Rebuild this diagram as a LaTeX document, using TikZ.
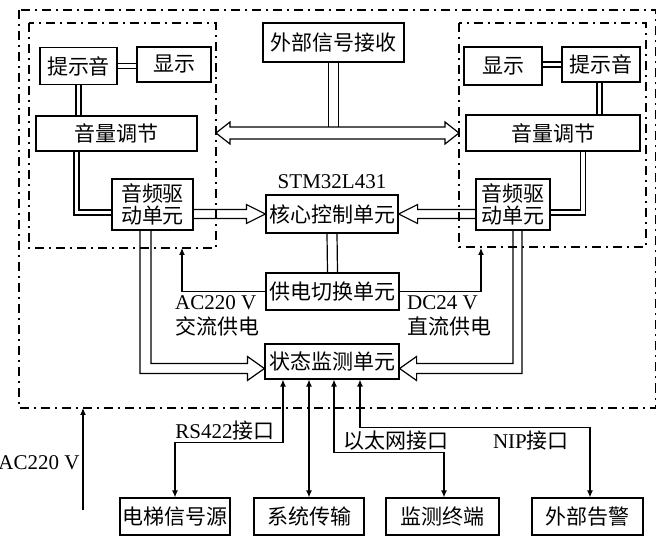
\documentclass[tikz,border=0pt]{standalone}
\usepackage{fontspec}
\setmainfont{Liberation Serif}
\newfontfamily\cjk{Noto Sans CJK SC}
\usetikzlibrary{arrows.meta,calc}
\begin{document}
\begin{tikzpicture}[x=1pt,y=-1pt,
  box/.style={draw,line width=1.2pt,inner sep=0pt,font=\cjk\fontsize{21}{22}\selectfont,align=center},
  dd/.style={dash pattern=on 9pt off 5pt on 2pt off 5pt,line width=1.2pt},
  ln/.style={line width=1.2pt},
  dbl/.style={double,double distance=3.8pt,line width=1.2pt},
  arr/.style={line width=1.2pt,-{Latex[length=7pt,width=6pt]}},
  barr/.style={line width=1.2pt,{Latex[length=7pt,width=6pt]}-{Latex[length=7pt,width=6pt]}},
  lat/.style={font=\fontsize{21}{25}\selectfont,inner sep=0pt},
]
\useasboundingbox (0,0) rectangle (657,540);
\fill[white] (0,0) rectangle (657,540);

% dashed frames
\draw[dd] (19,10) rectangle (655.5,408);
\draw[dd] (29,23) rectangle (216,248);
\draw[dd] (459,23) rectangle (646,247);

% left group
\node[box,minimum width=77pt,minimum height=37pt] (tsL) at (78.5,66) {提示音};
\node[box,minimum width=74pt,minimum height=35pt] (xsL) at (174,64.5) {显示};
\node[box,minimum width=161pt,minimum height=35pt] (ylL) at (116.5,133.5) {音量调节};
\node[box,minimum width=81pt,minimum height=51pt] (qdL) at (152.5,204.5) {音频驱\\动单元};
% right group
\node[box,minimum width=78pt,minimum height=38pt] (xsR) at (503,66) {显示};
\node[box,minimum width=78pt,minimum height=35pt] (tsR) at (601,64.5) {提示音};
\node[box,minimum width=174pt,minimum height=36pt] (ylR) at (553,133) {音量调节};
\node[box,minimum width=74pt,minimum height=51pt] (qdR) at (513,204.5) {音频驱\\动单元};
% centre
\node[box,minimum width=141pt,minimum height=39pt] (wb) at (333.5,42.5) {外部信号接收};
\node[box,minimum width=132pt,minimum height=38pt] (core) at (332,214) {核心控制单元};
\node[lat] (stm) at (332,182) {STM32L431};
\node[box,minimum width=133pt,minimum height=37pt] (gd) at (332.5,291.5) {供电切换单元};
\node[box,minimum width=134pt,minimum height=35pt] (zt) at (332,361.5) {状态监测单元};
% bottom
\node[box,minimum width=110pt,minimum height=37pt] (dt) at (175,516.5) {电梯信号源};
\node[box,minimum width=110pt,minimum height=37pt] (xt) at (309,516.5) {系统传输};
\node[box,minimum width=113pt,minimum height=37pt] (jc) at (442.5,516.5) {监测终端};
\node[box,minimum width=111pt,minimum height=37pt] (wg) at (587.5,516.5) {外部告警};

% double lines inside groups
\draw[dbl] (tsL.east) -- (tsL.east -| xsL.west);
\draw[dbl] (tsL.south) -- (tsL.south |- ylL.north);
\draw[dbl] ([xshift=-40pt]ylL.south) |- ([yshift=-8pt]qdL.west);
\draw[dbl] (xsR.east |- tsR.west) -- (tsR.west);
\draw[dbl] ([xshift=-1.5pt]tsR.south) -- ([xshift=-1.5pt]tsR.south |- ylR.north);
\draw[dbl] ([xshift=30pt]ylR.south) |- ([yshift=-8pt]qdR.east);

% hollow double arrow
\coordinate (dA) at (216,133);
\coordinate (dB) at (459,133);
\draw[ln] (dA) -- ++(14,-11) -- ++(0,5) -- ($(dB)+(-14,-6)$) -- ++(0,-5) -- (dB)
  -- ++(-14,11) -- ++(0,-5) -- ($(dA)+(14,6)$) -- ++(0,5) -- cycle;
\draw[ln] ([xshift=-5pt]wb.south) -- ($(wb.south|-dA)+(-5,-6)$);
\draw[ln] ([xshift=5pt]wb.south) -- ($(wb.south|-dA)+(5,-6)$);

% hollow arrows to core
\draw[ln] ($(qdL.east|-core.west)+(0,-4.5)$) -- ($(core.west)+(-19,-4.5)$) -- ($(core.west)+(-19,-9.5)$)
  -- (core.west) -- ($(core.west)+(-19,9.5)$) -- ($(core.west)+(-19,4.5)$) -- ($(qdL.east|-core.west)+(0,4.5)$);
\draw[ln] ($(qdR.west|-core.east)+(0,-4.5)$) -- ($(core.east)+(19,-4.5)$) -- ($(core.east)+(19,-9.5)$)
  -- (core.east) -- ($(core.east)+(19,9.5)$) -- ($(core.east)+(19,4.5)$) -- ($(qdR.west|-core.east)+(0,4.5)$);

% core to power switch
\draw[ln] ([xshift=-5pt]core.south) -- ([xshift=-5pt]gd.north);
\draw[ln] ([xshift=5pt]core.south) -- ([xshift=5pt]gd.north);

% hollow arrows to status
\draw[ln] ($(qdL.south)+(-12.5,0)$) |- ($(zt.west)+(-17,12)$) -- ($(zt.west)+(-17,19)$) -- ($(zt.west)+(0,7)$)
  -- ($(zt.west)+(-17,-5)$) -- ($(zt.west)+(-17,2)$) -| ($(qdL.south)+(-1.5,0)$);
\draw[ln] ($(qdR.south)+(9,0)$) |- ($(zt.east)+(17,12)$) -- ($(zt.east)+(17,19)$) -- ($(zt.east)+(0,7)$)
  -- ($(zt.east)+(17,-5)$) -- ($(zt.east)+(17,2)$) -| (qdR.south);

% power supply arrows
\coordinate (pL) at (182,248);
\coordinate (pR) at (481,248);
\draw[arr] (gd.west) -| (pL);
\draw[arr] (gd.east) -| (pR);
\node[lat,align=left,anchor=north west] (acl) at (175,295) {AC220 V\\{\cjk 交流供电}};
\node[lat,align=left,anchor=north west] (dcl) at (407,295) {DC24 V\\{\cjk 直流供电}};

% bottom interfaces
\draw[barr] ([xshift=-49pt]zt.south) -- ++(0,63) -| (dt.north);
\draw[barr] ([xshift=-23pt]zt.south) -- (xt.north);
\draw[barr] ([xshift=2pt]zt.south) -- ++(0,73) -| ([xshift=1.5pt]jc.north);
\draw[barr] ([xshift=28pt]zt.south) -- ++(0,48) -| ([xshift=2.5pt]wg.north);
\node[lat] (rs) at (225,431) {RS422{\cjk 接口}};
\node[lat] (eth) at (396,441) {\cjk 以太网接口};
\node[lat] (nip) at (531,441) {NIP{\cjk 接口}};

% mains input
\coordinate (acA) at (83,510);
\coordinate (acB) at (83,408);
\draw[arr] (acA) -- (acB);
\node[lat] (acin) at (39,463) {AC220 V};
\end{tikzpicture}
\end{document}
